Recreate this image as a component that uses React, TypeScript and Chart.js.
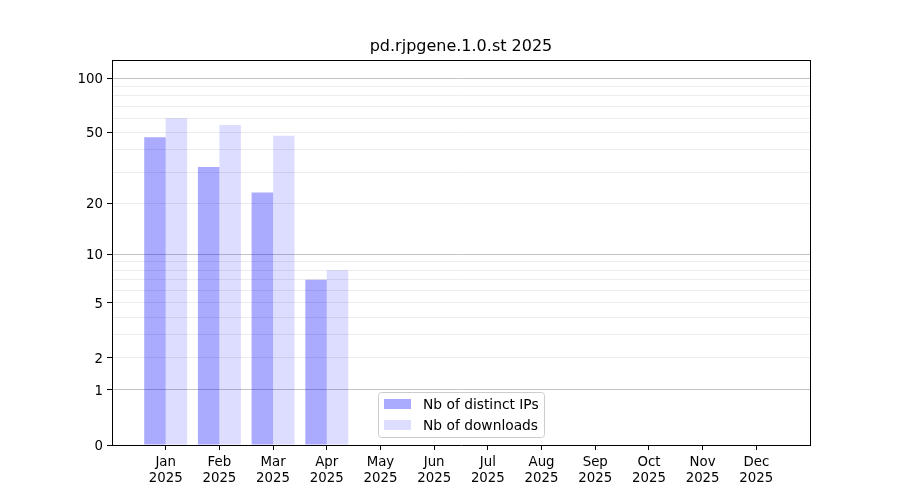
import React, { useEffect, useRef } from 'react';
import { Chart, registerables } from 'chart.js';

Chart.register(...registerables);

const chartTitle = 'pd.rjpgene.1.0.st 2025';
const months = ['Jan', 'Feb', 'Mar', 'Apr', 'May', 'Jun', 'Jul', 'Aug', 'Sep', 'Oct', 'Nov', 'Dec'];
const yearLabel = '2025';
const distinctIPs: (number | null)[] = [47, 32, 23, 7, null, null, null, null, null, null, null, null];
const downloads: (number | null)[] = [60, 55, 48, 8, null, null, null, null, null, null, null, null];
const seriesNames = ['Nb of distinct IPs', 'Nb of downloads'];
const labeledTicks = [0, 1, 2, 5, 10, 20, 50, 100];
const majorGrid = [1, 10, 100];
const minorGrid = [2, 3, 4, 6, 7, 8, 9, 20, 30, 40, 60, 70, 80, 90];
const yMaxValue = 126;

const FONT = 'DejaVu Sans';
const tf = (v: number) => Math.log10(1 + v);
const inv = (t: number) => Math.round(Math.pow(10, t) - 1);

const ipColor = 'rgba(0,0,255,0.333)';
const dlColor = 'rgba(0,0,255,0.135)';

export default function App() {
  const ref = useRef<HTMLCanvasElement | null>(null);

  useEffect(() => {
    if (!ref.current) return;
    const labels: any[] = ['', ...months.map((m) => [m, yearLabel]), ''];
    const pad = (arr: (number | null)[]) => [null, ...arr.map((v) => (v == null ? null : tf(v))), null];
    const allTicks = [0, ...majorGrid, ...minorGrid, 5, 50].sort((a, b) => a - b);

    const decor = {
      id: 'decor',
      afterDraw(chart: any) {
        const { ctx, chartArea } = chart;
        const { left, right, top, bottom } = chartArea;
        ctx.save();
        ctx.strokeStyle = '#000';
        ctx.lineWidth = 1;
        ctx.beginPath();
        ctx.moveTo(left, top + 0.5);
        ctx.lineTo(right, top + 0.5);
        ctx.moveTo(right + 0.5, top);
        ctx.lineTo(right + 0.5, bottom);
        ctx.stroke();
        ctx.fillStyle = '#000';
        ctx.font = `16px "${FONT}"`;
        ctx.textAlign = 'center';
        ctx.textBaseline = 'middle';
        ctx.fillText(chartTitle, (left + right) / 2, 47);
        const bx = 378.5, by = 392.5, bw = 166, bh = 45;
        ctx.beginPath();
        (ctx as any).roundRect(bx, by, bw, bh, 3);
        ctx.fillStyle = 'rgba(255,255,255,0.8)';
        ctx.fill();
        ctx.strokeStyle = '#cccccc';
        ctx.stroke();
        const colors = ['#aaaaff', '#ddddff'];
        ctx.font = `13.8px "${FONT}"`;
        ctx.textAlign = 'left';
        seriesNames.forEach((name, i) => {
          const y = 399 + i * 21;
          ctx.fillStyle = colors[i];
          ctx.fillRect(384, y, 27, 10);
          ctx.fillStyle = '#000';
          ctx.fillText(name, 423, y + 6);
        });
        ctx.restore();
      },
    };

    const chart = new Chart(ref.current, {
      type: 'bar',
      data: {
        labels,
        datasets: [
          { label: seriesNames[0], data: pad(distinctIPs), backgroundColor: ipColor, borderWidth: 0 },
          { label: seriesNames[1], data: pad(downloads), backgroundColor: dlColor, borderWidth: 0 },
        ],
      },
      options: {
        responsive: false,
        animation: false,
        devicePixelRatio: 1,
        layout: { padding: { top: 60, right: 90, left: 0, bottom: 0 } },
        datasets: { bar: { categoryPercentage: 0.8, barPercentage: 1.0 } },
        plugins: { legend: { display: false }, title: { display: false }, tooltip: { enabled: false } },
        scales: {
          x: {
            type: 'category',
            offset: false,
            grid: {
              offset: false,
              drawOnChartArea: false,
              drawTicks: true,
              tickLength: 5,
              tickColor: (ctx: any) => (ctx.index === 0 || ctx.index === labels.length - 1 ? 'rgba(0,0,0,0)' : '#000'),
            },
            border: { color: '#000', width: 1 },
            ticks: {
              autoSkip: false,
              maxRotation: 0,
              minRotation: 0,
              color: '#000',
              padding: 5,
              font: { family: FONT, size: 13.33, lineHeight: 1.2 },
            },
            afterFit: (s: any) => {
              s.height = 55;
            },
          },
          y: {
            type: 'linear',
            min: 0,
            max: tf(yMaxValue),
            afterBuildTicks: (s: any) => {
              s.ticks = allTicks.map((v) => ({ value: tf(v) }));
            },
            grid: {
              drawTicks: true,
              tickLength: 5,
              lineWidth: 1,
              color: (ctx: any) => {
                const v = inv(ctx.tick ? ctx.tick.value : 0);
                if (v === 0) return 'rgba(0,0,0,0)';
                if (majorGrid.includes(v)) return '#c4c4c4';
                return '#ececec';
              },
              tickColor: (ctx: any) => {
                const v = inv(ctx.tick ? ctx.tick.value : 0);
                return labeledTicks.includes(v) ? '#000' : 'rgba(0,0,0,0)';
              },
            },
            border: { color: '#000', width: 1 },
            ticks: {
              autoSkip: false,
              color: '#000',
              padding: 4,
              labelOffset: 1.5,
              font: { family: FONT, size: 13.33 },
              callback: (val: any) => {
                const v = inv(Number(val));
                return labeledTicks.includes(v) ? String(v) : '';
              },
            },
            afterFit: (s: any) => {
              s.width = 112;
            },
          },
        },
      },
      plugins: [decor],
    } as any);

    return () => chart.destroy();
  }, []);

  return (
    <div style={{ position: 'absolute', left: 0, top: 0, width: 900, height: 500, background: '#fff' }}>
      <canvas ref={ref} width={900} height={500} style={{ display: 'block' }} />
    </div>
  );
}
